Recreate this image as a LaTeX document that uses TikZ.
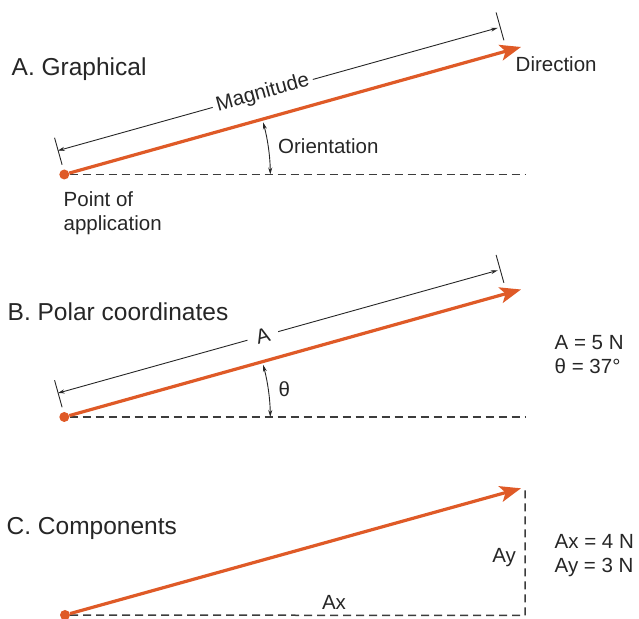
\documentclass[tikz,border=0pt]{standalone}
\usepackage{fontspec}
\setmainfont{Liberation Sans}
\usetikzlibrary{arrows.meta, calc}
\definecolor{corange}{HTML}{DF5A27}
\definecolor{cink}{HTML}{262626}
\definecolor{cdash}{HTML}{3C3C3C}
\tikzset{
  every picture/.style={x=1bp, y=1bp},
  vec/.style={draw=corange, line width=3.2bp, -{Stealth[length=21bp, width=16bp, inset=5bp]}},
  vecdot/.style={circle, fill=corange, inner sep=0pt, minimum size=10bp},
  guide/.style={draw=cdash, line width=1.5bp, dash pattern=on 8bp off 5bp},
  dim/.style={draw=cink, line width=0.9bp, {Stealth[length=7bp, width=4bp]}-{Stealth[length=7bp, width=4bp]}},
  tick/.style={draw=cink, line width=0.9bp},
  title/.style={font=\fontsize{24.5bp}{29bp}\selectfont, text=cink, inner sep=0pt},
  lbl/.style={font=\fontsize{20.5bp}{24bp}\selectfont, text=cink, inner sep=0pt, align=left},
}

\begin{document}
\begin{tikzpicture}
  \useasboundingbox (0,0) rectangle (639,619);
  % A. Graphical
  \node[title, anchor=base west] (ttlA) at (11.5,543.3) {A. Graphical};
  \node[vecdot] (dA) at (64.3,444.5) {};
  \coordinate (eA) at (525,444.5);
  \coordinate (oA) at ($(dA)+(206,0)$);
  \begin{scope}[shift={(dA)}, rotate=15.6]
    \coordinate (tA) at (474.2,0);
    \coordinate (mA1) at (0,24.7);
    \coordinate (mA2) at (457,24.7);
    \draw[tick] (0.5,10) -- (0.5,38);
    \draw[tick] (459.5,11) -- (459.5,40);
  \end{scope}
  \draw[guide] (dA) -- (eA);
  \draw[vec] (dA) -- (tA);
  \draw[dim] (mA1) -- node[lbl, sloped, fill=white, inner xsep=4bp, inner ysep=2bp, pos=0.466] (magA) {Magnitude} (mA2);
  \draw[dim] (oA) arc[start angle=0.5, end angle=15.2, radius=206];
  \node[lbl, anchor=base west] (dirA) at (515.5,547.3) {Direction};
  \node[lbl, anchor=base west] (oriA) at (278,465) {Orientation};
  % base sits on the last line
  \node[lbl, anchor=base west] (appA) at (63.5,388.3) {Point of\\application};
  % B. Polar coordinates
  \node[title, anchor=base west] (ttlB) at (7.5,298.3) {B. Polar coordinates};
  \node[vecdot] (dB) at (64.3,202) {};
  \coordinate (eB) at (525,202);
  \coordinate (oB) at ($(dB)+(206,0)$);
  \begin{scope}[shift={(dB)}, rotate=15.6]
    \coordinate (tB) at (474.2,0);
    \coordinate (mB1) at (0,24.7);
    \coordinate (mB2) at (457,24.7);
    \draw[tick] (0.5,10) -- (0.5,38);
    \draw[tick] (459.5,11) -- (459.5,40);
  \end{scope}
  \draw[guide] (dB) -- (eB);
  \draw[vec] (dB) -- (tB);
  \draw[dim] (mB1) -- node[lbl, sloped, fill=white, inner xsep=9bp, inner ysep=2bp, pos=0.466] (magB) {A} (mB2);
  \draw[dim] (oB) arc[start angle=0.5, end angle=15.2, radius=206];
  \node[lbl, anchor=base west] (angB) at (278.5,222.5) {θ};
  \node[lbl, anchor=base west] (valB) at (554.5,245) {A = 5 N\\θ = 37°};
  % C. Components
  \node[title, anchor=base west] (ttlC) at (6.5,84) {C. Components};
  \node[vecdot] (dC) at (65,4) {};
  \coordinate (cC) at (525,3.5);
  \coordinate (vC) at (525,129);
  \coordinate (tC) at (521,130.7);
  \draw[guide] (dC) -- (cC) -- (vC);
  \draw[vec] (dC) -- (tC);
  \node[lbl, anchor=base] (axC) at (334,9) {Ax};
  \node[lbl, anchor=base east] (ayC) at (516,56.3) {Ay};
  \node[lbl, anchor=base west] (valC) at (554.5,46.3) {Ax = 4 N\\Ay = 3 N};
\end{tikzpicture}
\end{document}
